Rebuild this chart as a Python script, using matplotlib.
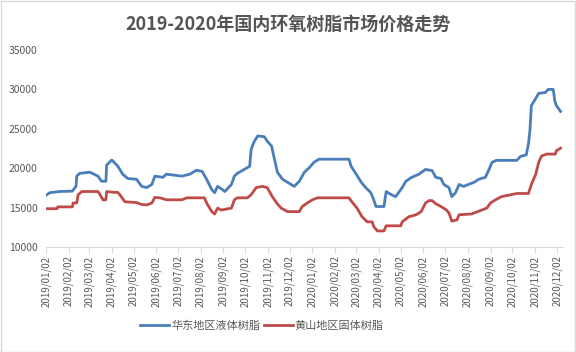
import numpy as np
import pandas as pd
import matplotlib
matplotlib.use("Agg")
import matplotlib.pyplot as plt
import matplotlib.dates as mdates
from matplotlib.patches import Rectangle

plt.rcParams['font.family'] = ['Noto Sans CJK SC', 'DejaVu Sans']

# 华东地区液体树脂 (yuan/ton)
east_dates = ["2019-01-03", "2019-01-07", "2019-01-21", "2019-02-07", "2019-02-12", "2019-02-13",
              "2019-02-17", "2019-03-03", "2019-03-14", "2019-03-19", "2019-03-25", "2019-03-26",
              "2019-04-02", "2019-04-10", "2019-04-17", "2019-04-24", "2019-05-06", "2019-05-13",
              "2019-05-20", "2019-05-27", "2019-05-31", "2019-06-11", "2019-06-16", "2019-07-07",
              "2019-07-18", "2019-07-27", "2019-08-04", "2019-08-10", "2019-08-17", "2019-08-21",
              "2019-08-25", "2019-08-30", "2019-09-04", "2019-09-13", "2019-09-17", "2019-09-21",
              "2019-10-08", "2019-10-10", "2019-10-14", "2019-10-19", "2019-10-28", "2019-11-01",
              "2019-11-07", "2019-11-11", "2019-11-15", "2019-11-22", "2019-12-01", "2019-12-08",
              "2019-12-15", "2019-12-22", "2019-12-29", "2020-01-04", "2020-01-11", "2020-02-21",
              "2020-02-24", "2020-03-02", "2020-03-09", "2020-03-15", "2020-03-22", "2020-03-26",
              "2020-03-29", "2020-04-09", "2020-04-12", "2020-04-19", "2020-04-25", "2020-05-04",
              "2020-05-09", "2020-05-17", "2020-05-27", "2020-06-05", "2020-06-14", "2020-06-19",
              "2020-06-26", "2020-06-30", "2020-07-07", "2020-07-11", "2020-07-16", "2020-07-21",
              "2020-07-27", "2020-08-10", "2020-08-17", "2020-08-26", "2020-08-31", "2020-09-04",
              "2020-09-10", "2020-10-08", "2020-10-13", "2020-10-21", "2020-10-24", "2020-10-26",
              "2020-10-28", "2020-11-03", "2020-11-07", "2020-11-16", "2020-11-20", "2020-11-27",
              "2020-11-29", "2020-12-01", "2020-12-07"]
east_price = [16650, 16900, 17050, 17100, 17700, 19000,
              19350, 19500, 19000, 18350, 18350, 20400,
              21050, 20300, 19250, 18700, 18600, 17700,
              17550, 17950, 19000, 18850, 19250, 19000,
              19250, 19750, 19600, 18600, 17300, 16900,
              17700, 17400, 17050, 17950, 19000, 19350,
              20250, 22400, 23350, 24100, 24000, 23450,
              22800, 21150, 19500, 18600, 18100, 17700,
              18350, 19500, 20100, 20750, 21150, 21150,
              20250, 19250, 18200, 17550, 16900, 16000,
              15150, 15150, 17050, 16650, 16400, 17550,
              18350, 18850, 19250, 19850, 19700, 18850,
              18700, 17950, 17550, 16400, 16900, 17950,
              17700, 18200, 18600, 18850, 19850, 20750,
              21000, 21000, 21500, 21700, 23100, 24750,
              27950, 28850, 29500, 29600, 30000, 30000,
              28600, 28000, 27200]

# 黄山地区固体树脂
hs_dates = ["2019-01-03", "2019-01-17", "2019-01-18", "2019-02-07", "2019-02-08", "2019-02-13",
            "2019-02-15", "2019-02-20", "2019-03-14", "2019-03-17", "2019-03-21", "2019-03-25",
            "2019-03-26", "2019-04-04", "2019-04-10", "2019-04-13", "2019-04-20", "2019-05-06",
            "2019-05-13", "2019-05-20", "2019-05-27", "2019-05-31", "2019-06-07", "2019-06-16",
            "2019-07-07", "2019-07-14", "2019-08-07", "2019-08-10", "2019-08-17", "2019-08-21",
            "2019-08-25", "2019-08-30", "2019-09-13", "2019-09-17", "2019-09-21", "2019-10-05",
            "2019-10-10", "2019-10-17", "2019-10-25", "2019-11-01", "2019-11-08", "2019-11-14",
            "2019-11-20", "2019-11-29", "2019-12-15", "2019-12-19", "2019-12-26", "2020-01-02",
            "2020-01-09", "2020-02-21", "2020-02-25", "2020-03-03", "2020-03-10", "2020-03-17",
            "2020-03-24", "2020-03-26", "2020-03-31", "2020-04-09", "2020-04-12", "2020-05-02",
            "2020-05-04", "2020-05-13", "2020-05-23", "2020-05-30", "2020-06-05", "2020-06-10",
            "2020-06-14", "2020-06-19", "2020-06-26", "2020-07-03", "2020-07-07", "2020-07-11",
            "2020-07-18", "2020-07-21", "2020-08-07", "2020-08-28", "2020-09-02", "2020-09-09",
            "2020-09-17", "2020-10-08", "2020-10-24", "2020-10-28", "2020-11-03", "2020-11-07",
            "2020-11-11", "2020-11-18", "2020-11-30", "2020-12-01", "2020-12-07"]
hs_price = [14870, 14870, 15100, 15100, 15600, 15600,
            16650, 17050, 17050, 16650, 16000, 16000,
            17050, 16950, 16950, 16650, 15750, 15650,
            15400, 15350, 15600, 16300, 16250, 16000,
            16000, 16250, 16250, 15600, 14500, 14200,
            14950, 14700, 14950, 16000, 16250, 16250,
            16650, 17550, 17700, 17550, 16400, 15600,
            14950, 14500, 14500, 15150, 15600, 16000,
            16250, 16250, 15750, 14950, 13850, 13200,
            13200, 12600, 12050, 12050, 12700, 12700,
            13200, 13850, 14100, 14500, 15600, 15900,
            15900, 15500, 15150, 14750, 14350, 13300,
            13450, 14100, 14200, 14950, 15600, 16000,
            16400, 16800, 16800, 17950, 19250, 20750,
            21550, 21800, 21800, 22200, 22550]

title = "2019-2020年国内环氧树脂市场价格走势"
labels = ["华东地区液体树脂", "黄山地区固体树脂"]

fig = plt.figure(figsize=(5.76, 3.52), dpi=100)
ax = fig.add_axes([0.080, 0.298, 0.897, 0.560])

ax.plot(pd.to_datetime(east_dates), east_price, color='#4a7ebb', lw=2.0, label=labels[0],
        solid_joinstyle='round')
ax.plot(pd.to_datetime(hs_dates), hs_price, color='#be4b48', lw=2.0, label=labels[1],
        solid_joinstyle='round')

ax.set_ylim(10000, 35000)
ax.set_yticks(np.arange(10000, 35001, 5000))
ax.set_xlim(pd.Timestamp("2019-01-02"), pd.Timestamp("2020-12-10"))
ax.xaxis.set_major_locator(mdates.MonthLocator(bymonthday=2))
ax.xaxis.set_major_formatter(mdates.DateFormatter('%Y/%m/%d'))

for s in ['top', 'right', 'left']:
    ax.spines[s].set_visible(False)
ax.spines['bottom'].set_color('#d9d9d9')
ax.tick_params(axis='x', colors='#d9d9d9', length=4, labelcolor='#595959', labelsize=7,
               labelrotation=90, pad=2)
ax.tick_params(axis='y', length=0, labelcolor='#595959', labelsize=7.5, pad=6)

fig.text(0.5, 0.932, title, ha='center', va='center', fontsize=13, fontweight='bold',
         color='#555555')
fig.legend(loc='center', bbox_to_anchor=(0.455, 0.075), ncol=2, frameon=False,
           fontsize=8, handlelength=2.6, columnspacing=0.3, handletextpad=0.2,
           labelcolor='#595959')

# thin chart border
fig.patches.append(Rectangle((0.001, 0.001), 0.998, 0.996, transform=fig.transFigure,
                             fill=False, edgecolor='#d9d9d9', lw=1.0))

fig.savefig('out.png', dpi=100)
